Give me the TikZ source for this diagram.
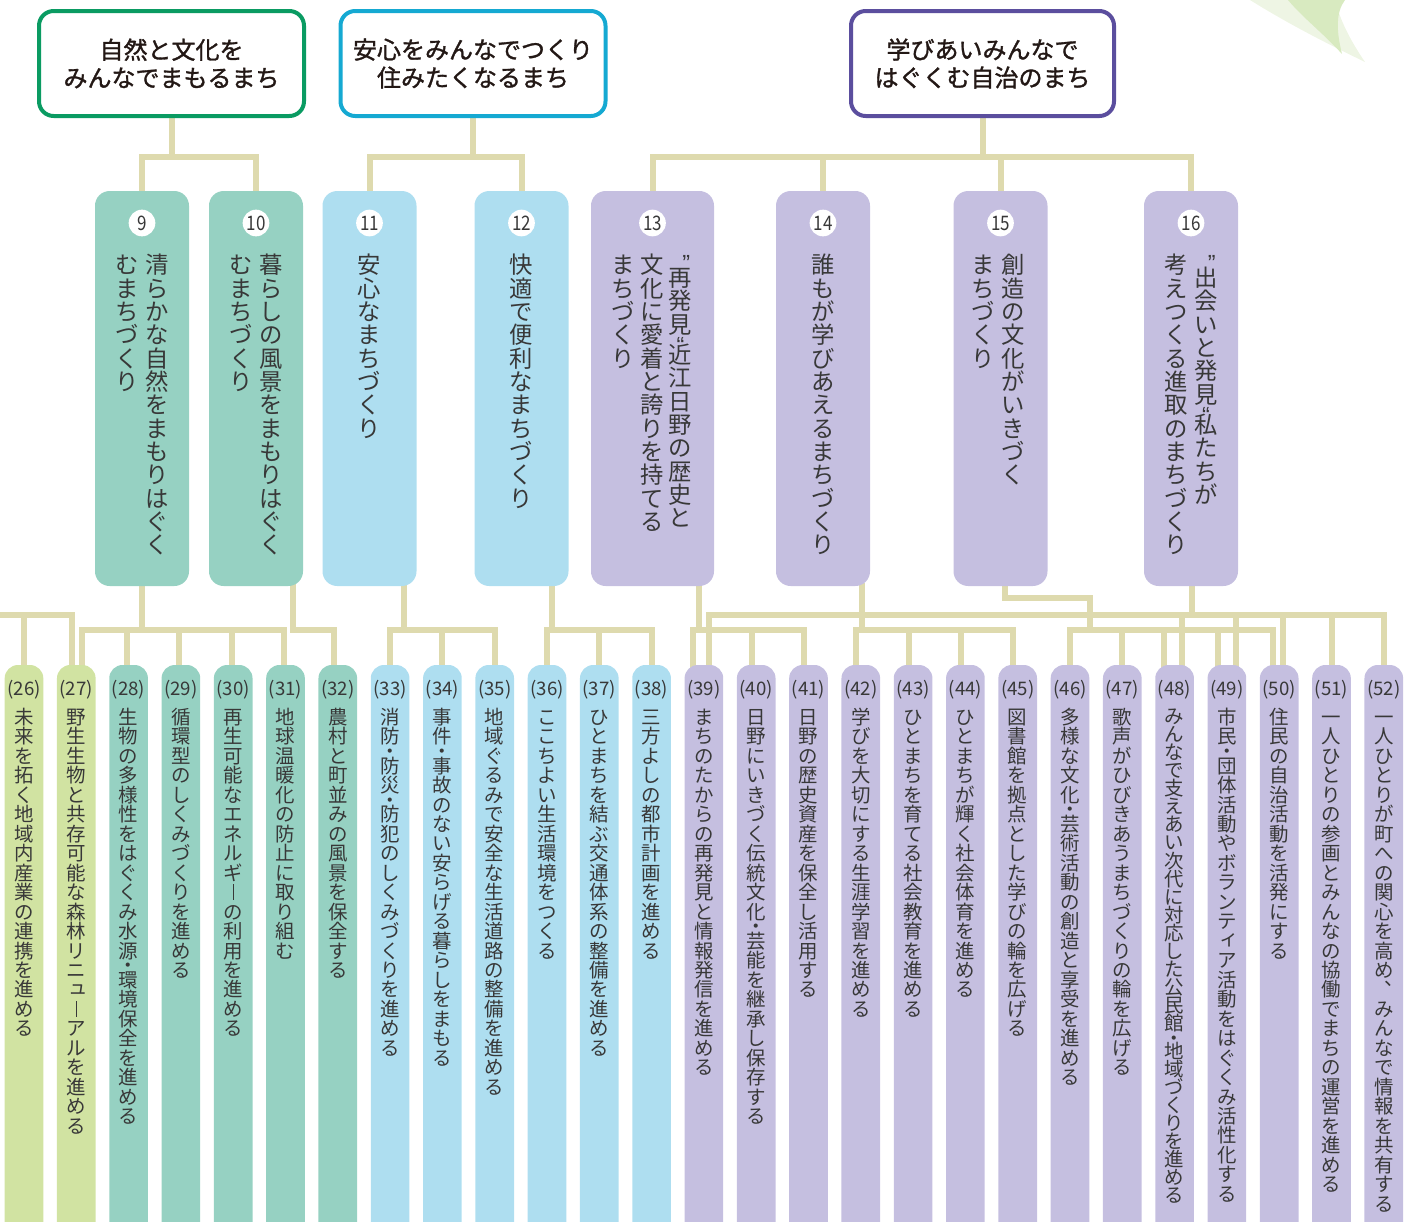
\documentclass[tikz,border=0pt]{standalone}
\usepackage{fontspec}
\usepackage{graphicx}
\usetikzlibrary{calc}
\newfontfamily\jp{Noto Sans CJK JP}
\newfontfamily\jpm[FakeBold=1.3]{Noto Sans CJK JP}
\newfontfamily\latq{Liberation Sans}
\definecolor{tealc}{HTML}{96D1C2}
\definecolor{bluec}{HTML}{AEDEF0}
\definecolor{lavc}{HTML}{C5BFE0}
\definecolor{grnc}{HTML}{D1E3A2}
\definecolor{connc}{HTML}{DEDAAE}
\definecolor{bordA}{HTML}{0A9B62}
\definecolor{bordB}{HTML}{15A9D2}
\definecolor{bordC}{HTML}{5B4E9E}
\definecolor{txt}{HTML}{383838}
\definecolor{toptxt}{HTML}{231815}
\definecolor{leafc}{HTML}{D8EAC0}
\definecolor{leafd}{HTML}{EEF5E4}
\pgfdeclarelayer{bg}
\pgfsetlayers{bg,main}
\makeatletter
\newdimen\vp
\def\vfac{1}
\def\mkD{\vD}\def\mkL{\vL}\def\mkU{\vU}\def\mkI{\vI}\def\mkC{\vC}\def\mkQ{\vQ}\def\mkq{\vq}
\def\vnorm#1{\hbox to 1em{\hss\vrule height .88\vp depth .12\vp width 0pt\smash{#1}\hss}}
\def\vdotcell{\hbox to 1em{\hss\vrule height .25\vp depth .25\vp width 0pt\smash{\raisebox{-.38em}{・}}\hss}}
\def\vlongcell{\hbox to 1em{\hss\vrule height .88\vp depth .12\vp width 0pt\smash{\raisebox{-.02em}{\rule{.06em}{.8em}}}\hss}}
\def\vsmallcell#1{\hbox to 1em{\hss\vrule height .88\vp depth .12\vp width 0pt\smash{\kern.2em\raisebox{.12em}{#1}}\hss}}
\def\vcommacell{\hbox to 1em{\hss\vrule height .88\vp depth .12\vp width 0pt\smash{\kern1.1em\raisebox{.6em}{、}}\hss}}
\def\vqcellA{\hbox to 1em{\hss\vrule height .88\vp depth .12\vp width 0pt\smash{\kern.5em\raisebox{.08em}{\latq ”}}\hss}\vskip-.45\vp}
\def\vqcellB{\hbox to 1em{\hss\vrule height .88\vp depth .12\vp width 0pt\smash{\raisebox{.12em}{\latq “}}\hss}\vskip-.7\vp}
\def\vitem{%
  \ifx\@vch\mkD \vdotcell
  \else\ifx\@vch\mkL \vlongcell
  \else\ifx\@vch\mkU \vsmallcell{ュ}%
  \else\ifx\@vch\mkI \vsmallcell{ィ}%
  \else\ifx\@vch\mkC \vcommacell
  \else\ifx\@vch\mkQ \vqcellA
  \else\ifx\@vch\mkq \vqcellB
  \else \vnorm{\@vch}%
  \fi\fi\fi\fi\fi\fi\fi}
\def\vcol#1{\vtop{\vp=\vfac em\relax\offinterlineskip\@tfor\@vch:=#1\do{\vitem}}}
\makeatother
\newcommand\botbox[3]{%
  \node[bbox, fill=#2] (b#1) at ({24+(#1-26)*52.3},955) {};
  \node[blabel] (l#1) at ({24+(#1-26)*52.3},690) {(#1)};
  \node[btext] (t#1) at ({24+(#1-26)*52.3},707) {#3};
}
\begin{document}
\begin{tikzpicture}[x=0.75pt,y=-0.75pt,
  bbox/.style={rounded corners=10pt, minimum width=29pt, minimum height=435pt, inner sep=0pt},
  blabel/.style={font=\jp\fontsize{14}{14}\selectfont, text=txt, inner sep=0pt},
  btext/.style={font=\jp\fontsize{14.6}{15}\selectfont, text=txt, inner sep=0pt, anchor=north},
  mbox/.style={rounded corners=11pt, minimum height=296.25pt, minimum width=70.5pt, inner sep=0pt},
  mtext/.style={font=\jp\fontsize{17.5}{18}\selectfont, text=txt, inner sep=0pt, anchor=north},
  circ/.style={circle, fill=white, minimum size=20pt, inner sep=0pt, font=\jp\fontsize{15}{15}\selectfont, text=txt},
  topbox/.style={draw, line width=3pt, rounded corners=11pt, fill=white, minimum width=198.75pt, minimum height=78.75pt, align=center, font=\jpm\fontsize{18}{21}\selectfont, text=toptxt},
  conn/.style={draw=connc, line width=4.5pt, line cap=rect}]
\useasboundingbox (0,0) rectangle (1415,1222);
% top boxes
\node[topbox, draw=bordA] (A) at (171.5,63.5) {自然と文化を\\みんなでまもるまち};
\node[topbox, draw=bordB] (B) at (473,63.5) {安心をみんなでつくり\\住みたくなるまち};
\node[topbox, draw=bordC, minimum width=197.25pt] (C) at (982.5,63.5) {学びあいみんなで\\はぐくむ自治のまち};
% middle boxes
\node[mbox, fill=tealc] (m9) at (142,388.5) {};
\node[mbox, fill=tealc] (m10) at (256,388.5) {};
\node[mbox, fill=bluec] (m11) at (369.5,388.5) {};
\node[mbox, fill=bluec] (m12) at (521.5,388.5) {};
\node[mbox, fill=lavc, minimum width=92.25pt] (m13) at (652.5,388.5) {};
\node[mbox, fill=lavc] (m14) at (823,388.5) {};
\node[mbox, fill=lavc] (m15) at (1000.5,388.5) {};
\node[mbox, fill=lavc] (m16) at (1191,388.5) {};
\node[circ] (c9) at (142,223) {\scalebox{.85}[1]{9}};
\node[circ] (c10) at (256,223) {\scalebox{.85}[1]{10}};
\node[circ] (c11) at (369.5,223) {\scalebox{.85}[1]{11}};
\node[circ] (c12) at (521.5,223) {\scalebox{.85}[1]{12}};
\node[circ] (c13) at (652.5,223) {\scalebox{.85}[1]{13}};
\node[circ] (c14) at (823,223) {\scalebox{.85}[1]{14}};
\node[circ] (c15) at (1000.5,223) {\scalebox{.85}[1]{15}};
\node[circ] (c16) at (1191,223) {\scalebox{.85}[1]{16}};
\node[mtext] (mt9) at (142,253) {\vcol{むまちづくり}\kern5pt\vcol{清らかな自然をまもりはぐく}};
\node[mtext] (mt10) at (256,253) {\vcol{むまちづくり}\kern5pt\vcol{暮らしの風景をまもりはぐく}};
\node[mtext] (mt11) at (369.5,253) {\vcol{安心なまちづくり}};
\node[mtext] (mt12) at (521.5,253) {\vcol{快適で便利なまちづくり}};
\node[mtext] (mt13) at (652,253) {\vcol{まちづくり}\kern3.9pt\vcol{文化に愛着と誇りを持てる}\kern3.9pt\vcol{\vQ 再発見\vq 近江日野の歴史と}};
\node[mtext] (mt14) at (823,253) {\vcol{誰もが学びあえるまちづくり}};
\node[mtext] (mt15) at (998,253) {\vcol{まちづくり}\kern5pt\vcol{創造の文化がいきづく}};
\node[mtext] (mt16) at (1191,253) {\vcol{考えつくる進取のまちづくり}\kern5pt\vcol{\vQ 出会いと発見\vq 私たちが}};
% bottom boxes
\botbox{26}{grnc}{\vcol{未来を拓く地域内産業の連携を進める}}
\botbox{27}{grnc}{\vcol{野生生物と共存可能な森林リニ\vU \vL アルを進める}}
\botbox{28}{tealc}{\vcol{生物の多様性をはぐくみ水源\vD 環境保全を進める}}
\botbox{29}{tealc}{\vcol{循環型のしくみづくりを進める}}
\botbox{30}{tealc}{\vcol{再生可能なエネルギ\vL の利用を進める}}
\botbox{31}{tealc}{\vcol{地球温暖化の防止に取り組む}}
\botbox{32}{tealc}{\vcol{農村と町並みの風景を保全する}}
\botbox{33}{bluec}{\vcol{消防\vD 防災\vD 防犯のしくみづくりを進める}}
\botbox{34}{bluec}{\vcol{事件\vD 事故のない安らげる暮らしをまもる}}
\botbox{35}{bluec}{\vcol{地域ぐるみで安全な生活道路の整備を進める}}
\botbox{36}{bluec}{\vcol{ここちよい生活環境をつくる}}
\botbox{37}{bluec}{\vcol{ひとまちを結ぶ交通体系の整備を進める}}
\botbox{38}{bluec}{\vcol{三方よしの都市計画を進める}}
\botbox{39}{lavc}{\vcol{まちのたからの再発見と情報発信を進める}}
\botbox{40}{lavc}{\vcol{日野にいきづく伝統文化\vD 芸能を継承し保存する}}
\botbox{41}{lavc}{\vcol{日野の歴史資産を保全し活用する}}
\botbox{42}{lavc}{\vcol{学びを大切にする生涯学習を進める}}
\botbox{43}{lavc}{\vcol{ひとまちを育てる社会教育を進める}}
\botbox{44}{lavc}{\vcol{ひとまちが輝く社会体育を進める}}
\botbox{45}{lavc}{\vcol{図書館を拠点とした学びの輪を広げる}}
\botbox{46}{lavc}{\vcol{多様な文化\vD 芸術活動の創造と享受を進める}}
\botbox{47}{lavc}{\vcol{歌声がひびきあうまちづくりの輪を広げる}}
\botbox{48}{lavc}{\def\vfac{.93}\vcol{みんなで支えあい次代に対応した公民館\vD 地域づくりを進める}}
\botbox{49}{lavc}{\vcol{市民\vD 団体活動やボランテ\vI ア活動をはぐくみ活性化する}}
\botbox{50}{lavc}{\vcol{住民の自治活動を活発にする}}
\botbox{51}{lavc}{\vcol{一人ひとりの参画とみんなの協働でまちの運営を進める}}
\botbox{52}{lavc}{\vcol{一人ひとりが町への関心を高め\vC みんなで情報を共有する}}
% connectors
\begin{pgfonlayer}{bg}
\fill[leafd] (1250,0) .. controls (1290,25) and (1330,45) .. (1365,62) .. controls (1350,40) and (1340,20) .. (1335,0) -- cycle;
\fill[leafc] (1288,0) .. controls (1303,18) and (1322,32) .. (1342,54) .. controls (1336,30) and (1336,12) .. (1345,0) -- cycle;
\coordinate (yT) at (0,157);
\coordinate (yB) at (0,615);
\coordinate (yL) at (0,630);
\draw[conn] (A.south) -- (A.south |- yT);
\draw[conn] (m9.north) |- (m10.north |- yT) -- (m10.north);
\draw[conn] (B.south) -- (B.south |- yT);
\draw[conn] (m11.north) |- (m12.north |- yT) -- (m12.north);
\draw[conn] (C.south) -- (C.south |- yT);
\draw[conn] (m13.north) |- (m16.north |- yT) -- (m16.north);
\draw[conn] (m14.north |- yT) -- (m14.north);
\draw[conn] (m15.north |- yT) -- (m15.north);
% lower left external
\draw[conn] (yB) -| ($(b27.north)+(-4.5,0)$);
\draw[conn] (b26.north |- yB) -- (b26.north);
% 9
\draw[conn] (m9.south) -- (m9.south |- yL);
\draw[conn] ($(b27.north)+(5.5,0)$) |- ($(b31.north |- yL)+(-2,0)$) -- ($(b31.north)+(-2,0)$);
\foreach \k in {28,29,30} \draw[conn] ($(b\k.north |- yL)+(-1.5,0)$) -- ($(b\k.north)+(-1.5,0)$);
% 10
\draw[conn] ($(m10.south)+(37,0)$) |- ($(b32.north |- yL)+(-4,0)$) -- ($(b32.north)+(-4,0)$);
% 11
\draw[conn] ($(m11.south)+(34.5,0)$) -- ++(0,44);
\draw[conn] (b33.north) |- (b35.north |- yL) -- (b35.north);
\draw[conn] (b34.north |- yL) -- (b34.north);
% 12
\draw[conn] ($(m12.south)+(30,0)$) -- ++(0,44);
\draw[conn] (b36.north) |- (b38.north |- yL) -- (b38.north);
\draw[conn] (b37.north |- yL) -- (b37.north);
% 13
\draw[conn] ($(m13.south)+(46.5,0)$) -- ++(0,44);
\draw[conn] ($(b39.north)+(-11,0)$) |- ($(b41.north |- yL)+(-5,0)$) -- ($(b41.north)+(-5,0)$);
\draw[conn] ($(b40.north |- yL)+(-4,0)$) -- ($(b40.north)+(-4,0)$);
% 14
\draw[conn] ($(m14.south)+(39,0)$) -- ++(0,44);
\draw[conn] ($(b42.north)+(-5,0)$) |- ($(b45.north |- yL)+(-5,0)$) -- ($(b45.north)+(-5,0)$);
\foreach \k in {43,44} \draw[conn] ($(b\k.north |- yL)+(-4.5,0)$) -- ($(b\k.north)+(-4.5,0)$);
% 15
\draw[conn] ($(m15.south)+(4.5,0)$) -- ++(0,12) -| ($(b46.north |- yL)+(20,0)$);
\draw[conn] (b46.north) |- ($(b50.north |- yL)+(-6,0)$) -- ($(b50.north)+(-6,0)$);
\draw[conn] (b47.north |- yL) -- (b47.north);
\draw[conn] ($(b48.north |- yL)+(-10.5,0)$) -- ($(b48.north)+(-10.5,0)$);
\draw[conn] ($(b49.north |- yL)+(-9,0)$) -- ($(b49.north)+(-9,0)$);
% 16
\draw[conn] ($(m16.south)+(1,0)$) -- ++(0,29);
\draw[conn] ($(b39.north)+(5,0)$) |- (b52.north |- yB) -- (b52.north);
\draw[conn] ($(b48.north |- yB)+(7.5,0)$) -- ($(b48.north)+(7.5,0)$);
\draw[conn] ($(b49.north |- yB)+(9,0)$) -- ($(b49.north)+(9,0)$);
\draw[conn] ($(b50.north |- yB)+(4,0)$) -- ($(b50.north)+(4,0)$);
\draw[conn] (b51.north |- yB) -- (b51.north);
\end{pgfonlayer}
\end{tikzpicture}
\end{document}
